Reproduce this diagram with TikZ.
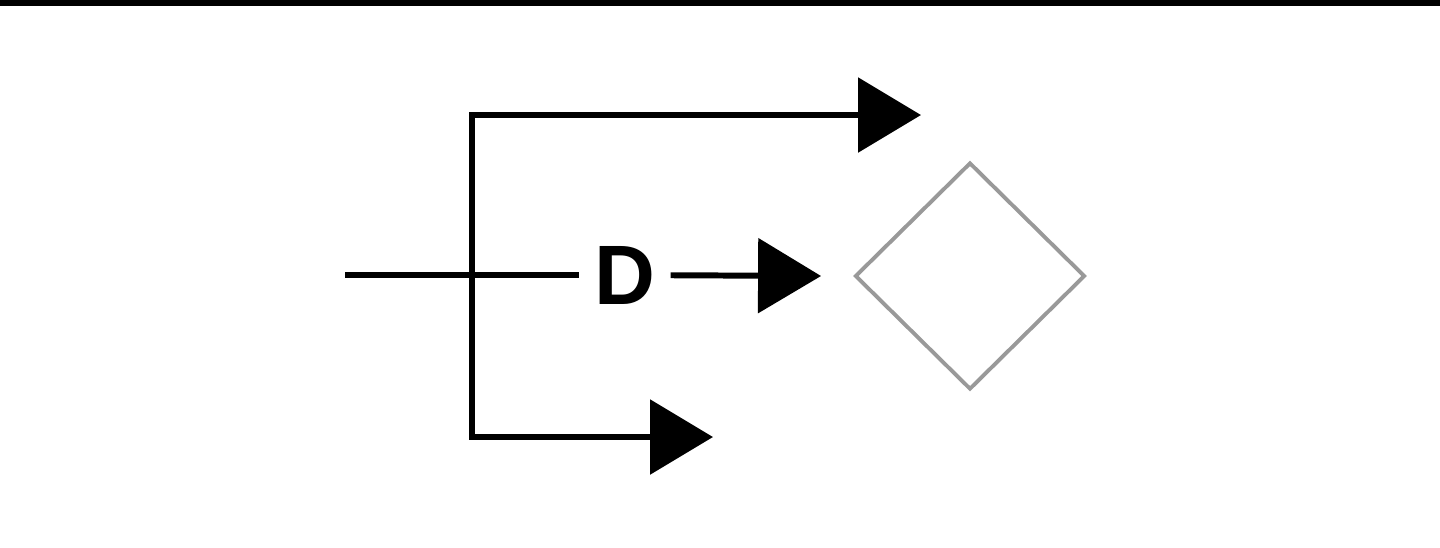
\documentclass[tikz,border=0pt]{standalone}
\usepackage{fontspec}
\setmainfont{Liberation Sans}
\usetikzlibrary{arrows.meta,shapes.geometric}
\tikzset{
    flow/.style={line width=1.7pt, -{Triangle[length=6.3mm,width=7.4mm]}},
    wire/.style={line width=1.7pt},
    gatebox/.style={diamond, draw=black!40, line width=1.1pt, minimum width=2.3cm, minimum height=2.27cm, inner sep=0pt},
    tag/.style={font=\fontsize{24}{28}\selectfont\bfseries, inner xsep=1.45mm, inner ysep=0pt}
}
\begin{document}
\begin{tikzpicture}

    \useasboundingbox (0,0) rectangle (14.4,5.47);
    \fill (0,5.41) rectangle (14.4,5.47);

    %split
    \coordinate (in) at (3.45,2.72);
    \coordinate (sp) at (4.72,2.72);
    \coordinate (top) at (9.21,4.32);
    \coordinate (bot) at (7.13,1.10);

    \node[tag] (lbl) at (6.25,2.72) {D};
    \node[gatebox] (gate) at (9.70,2.71) {};

    \draw[wire] (in) -- (lbl);
    \draw[flow] (lbl) -- ([xshift=-3.2mm]gate.west);
    \draw[flow] (sp) |- (top);
    \draw[flow] (sp) |- (bot);

\end{tikzpicture}
\end{document}
